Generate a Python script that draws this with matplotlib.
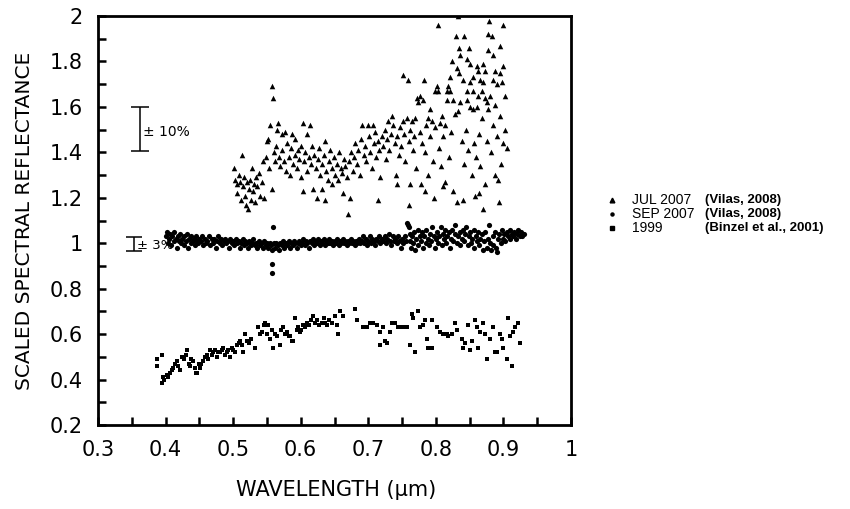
import matplotlib
matplotlib.use("Agg")
import matplotlib.pyplot as plt
from matplotlib.lines import Line2D
from matplotlib.ticker import MultipleLocator

# ---------------- data (wavelength um, scaled reflectance) ----------------
jul_2007 = [
    (0.501,1.33),(0.503,1.28),(0.505,1.26),(0.506,1.22),(0.508,1.30),(0.510,1.27),(0.511,1.19),
    (0.513,1.39),(0.514,1.25),(0.516,1.29),(0.517,1.21),(0.519,1.17),(0.520,1.27),(0.522,1.15),
    (0.523,1.24),(0.525,1.28),(0.526,1.19),(0.528,1.33),(0.529,1.23),(0.531,1.26),(0.532,1.18),
    (0.534,1.29),(0.536,1.25),(0.538,1.31),(0.540,1.21),(0.542,1.27),(0.544,1.36),(0.546,1.20),
    (0.548,1.38),(0.550,1.45),(0.552,1.46),(0.553,1.33),(0.555,1.52),(0.557,1.24),(0.558,1.69),
    (0.559,1.64),(0.560,1.40),(0.562,1.36),(0.563,1.43),(0.565,1.50),(0.566,1.53),(0.568,1.38),
    (0.570,1.34),(0.572,1.48),(0.573,1.41),(0.575,1.36),(0.577,1.49),(0.578,1.32),(0.580,1.44),
    (0.582,1.38),(0.584,1.30),(0.586,1.42),(0.587,1.48),(0.589,1.35),(0.591,1.39),(0.592,1.46),
    (0.594,1.33),(0.596,1.41),(0.598,1.37),(0.600,1.29),(0.601,1.43),(0.603,1.53),(0.603,1.23),
    (0.605,1.36),(0.607,1.40),(0.609,1.48),(0.610,1.32),(0.612,1.38),(0.614,1.52),(0.615,1.35),
    (0.617,1.43),(0.618,1.24),(0.620,1.39),
    (0.622,1.33),(0.624,1.20),(0.625,1.37),(0.627,1.42),(0.629,1.30),(0.631,1.24),(0.632,1.35),
    (0.634,1.39),(0.636,1.45),(0.636,1.19),(0.638,1.32),(0.640,1.28),(0.642,1.36),(0.644,1.41),
    (0.646,1.26),(0.647,1.33),(0.649,1.38),(0.651,1.30),(0.653,1.35),(0.655,1.28),(0.657,1.40),
    (0.659,1.33),(0.661,1.31),(0.663,1.22),(0.664,1.37),(0.666,1.34),(0.668,1.29),(0.670,1.13),
    (0.671,1.36),(0.673,1.20),
    (0.675,1.40),(0.677,1.32),(0.679,1.38),(0.681,1.44),(0.683,1.35),(0.685,1.41),(0.687,1.30),
    (0.689,1.46),(0.691,1.52),(0.693,1.39),(0.695,1.43),(0.697,1.36),(0.700,1.52),(0.701,1.47),
    (0.703,1.40),(0.705,1.33),(0.707,1.52),(0.708,1.44),(0.710,1.49),(0.712,1.38),(0.714,1.45),
    (0.714,1.19),(0.716,1.41),(0.718,1.29),(0.720,1.47),(0.722,1.43),(0.724,1.50),(0.726,1.37),
    (0.728,1.46),(0.729,1.54),(0.731,1.41),(0.733,1.48),(0.735,1.56),(0.737,1.52),(0.739,1.44),
    (0.741,1.30),(0.742,1.26),(0.743,1.47),(0.745,1.39),(0.747,1.51),(0.749,1.43),
    (0.751,1.74),(0.751,1.54),(0.753,1.48),(0.755,1.36),(0.757,1.55),(0.759,1.72),(0.760,1.45),
    (0.760,1.17),(0.762,1.50),(0.762,1.26),(0.765,1.54),(0.766,1.41),(0.768,1.47),(0.769,1.55),
    (0.771,1.33),(0.772,1.64),(0.774,1.62),(0.776,1.49),(0.777,1.65),(0.778,1.26),(0.780,1.44),
    (0.781,1.63),(0.782,1.72),(0.784,1.40),(0.784,1.23),(0.786,1.52),(0.788,1.55),(0.789,1.30),
    (0.791,1.59),(0.792,1.47),(0.794,1.54),(0.796,1.36),(0.797,1.20),(0.799,1.67),(0.799,1.51),
    (0.802,1.69),(0.803,1.96),(0.803,1.67),(0.805,1.42),(0.806,1.53),(0.808,1.34),(0.809,1.56),
    (0.810,1.25),(0.811,1.47),(0.813,1.27),(0.814,1.52),(0.816,1.67),(0.816,1.63),(0.818,1.69),
    (0.819,1.38),(0.821,1.73),(0.821,1.67),(0.823,1.49),(0.824,1.80),(0.825,1.63),(0.826,1.23),
    (0.828,1.57),(0.830,1.91),(0.831,1.77),(0.831,1.18),(0.833,1.58),(0.833,2.00),(0.834,1.86),
    (0.834,1.75),(0.836,1.62),(0.836,1.83),(0.838,1.45),(0.840,1.72),(0.840,1.19),(0.841,1.35),
    (0.842,1.91),(0.844,1.50),(0.846,1.81),(0.846,1.67),(0.846,1.63),(0.848,1.41),(0.849,1.86),
    (0.851,1.71),(0.851,1.79),(0.851,1.60),(0.853,1.30),(0.855,1.73),(0.855,1.67),(0.855,1.59),
    (0.857,1.44),(0.858,1.21),(0.860,1.38),(0.861,1.78),(0.861,1.60),(0.862,1.65),(0.862,1.76),
    (0.864,1.48),(0.864,1.22),(0.865,1.72),(0.866,1.34),(0.868,1.67),(0.869,1.55),(0.870,1.79),
    (0.870,1.71),(0.870,1.15),(0.872,1.26),(0.873,1.64),(0.873,1.76),(0.875,1.45),(0.876,1.62),
    (0.877,1.85),(0.877,1.59),(0.877,1.92),(0.879,1.98),(0.880,1.65),(0.881,1.40),(0.883,1.91),
    (0.884,1.52),(0.885,1.83),(0.885,1.72),(0.887,1.30),(0.888,1.76),(0.888,1.61),(0.890,1.47),
    (0.891,1.70),(0.892,1.28),(0.893,1.18),(0.895,1.87),(0.895,1.75),(0.895,1.56),(0.897,1.35),
    (0.898,1.71),(0.899,1.44),(0.900,1.96),(0.900,1.78),(0.902,1.50),(0.903,1.65),(0.905,1.42),
]

sep_2007 = [
    (0.400,1.03),(0.402,1.05),(0.403,1.00),(0.405,1.02),(0.407,1.04),(0.408,0.99),(0.410,1.03),
    (0.412,1.01),(0.413,1.05),(0.415,1.02),(0.417,0.98),(0.418,1.03),(0.420,1.01),(0.422,1.04),
    (0.423,1.00),(0.425,1.02),(0.427,0.99),(0.428,1.03),(0.430,1.01),(0.432,1.04),(0.433,0.98),
    (0.435,1.02),(0.437,1.00),(0.438,1.03),(0.440,1.01),(0.442,1.02),(0.443,0.99),(0.445,1.03),
    (0.447,1.01),(0.448,1.00),(0.450,1.02),
    (0.452,1.01),(0.454,1.03),(0.456,0.99),(0.458,1.02),(0.460,1.00),(0.462,1.01),(0.464,1.03),
    (0.466,0.99),(0.468,1.02),(0.470,1.00),(0.472,1.02),(0.474,0.98),(0.476,1.01),(0.478,1.03),
    (0.480,1.00),(0.482,1.02),(0.484,0.99),(0.486,1.01),(0.488,1.02),(0.490,1.00),(0.492,1.01),
    (0.494,0.98),(0.496,1.02),(0.498,1.00),(0.500,1.01),(0.502,0.99),(0.504,1.02),(0.506,1.00),
    (0.508,1.01),(0.510,0.98),(0.512,1.00),(0.514,1.02),(0.516,0.99),(0.518,1.01),(0.520,1.00),
    (0.522,0.98),(0.524,1.01),(0.526,0.99),(0.528,1.00),(0.530,1.02),(0.532,0.99),(0.534,1.00),
    (0.536,0.98),(0.538,1.01),(0.540,0.99),(0.542,1.00),(0.544,0.98),(0.546,1.01),(0.548,0.99),
    (0.550,1.00),
    (0.552,0.98),(0.554,1.00),(0.556,0.99),(0.557,0.91),(0.557,0.87),(0.559,1.07),(0.558,0.97),
    (0.560,1.00),(0.562,0.98),(0.564,1.00),(0.566,0.99),(0.568,0.97),(0.570,1.00),(0.572,0.99),
    (0.574,1.01),(0.576,0.98),(0.578,1.00),(0.580,0.99),(0.582,1.01),(0.584,0.98),(0.586,1.00),
    (0.588,0.99),(0.590,1.01),(0.592,1.00),(0.594,0.98),(0.596,1.00),(0.598,1.01),(0.600,0.99),
    (0.602,1.00),(0.604,1.02),(0.606,0.99),(0.608,1.01),(0.610,1.00),(0.612,0.98),(0.614,1.01),
    (0.616,1.00),(0.618,1.02),(0.620,0.99),(0.622,1.01),(0.624,1.00),(0.626,1.02),(0.628,0.99),
    (0.630,1.01),(0.632,1.00),(0.634,1.02),(0.636,0.99),(0.638,1.01),(0.640,1.00),(0.642,1.02),
    (0.644,1.00),(0.646,1.01),(0.648,0.99),(0.650,1.01),
    (0.652,1.00),(0.654,1.02),(0.656,0.99),(0.658,1.01),(0.660,1.00),(0.662,1.02),(0.664,1.00),
    (0.666,1.01),(0.668,0.99),(0.670,1.01),(0.672,1.00),(0.674,1.02),(0.676,1.00),(0.678,1.01),
    (0.680,0.99),(0.682,1.01),(0.684,1.00),(0.686,1.02),(0.688,1.00),(0.690,1.01),(0.692,1.03),
    (0.694,1.00),(0.696,1.02),(0.698,0.99),(0.700,1.01),(0.702,1.03),(0.704,1.00),(0.706,1.02),
    (0.708,1.01),(0.710,0.99),(0.712,1.02),(0.714,1.01),(0.716,1.03),(0.718,1.00),(0.720,1.02),
    (0.722,1.01),(0.724,1.03),(0.726,1.00),(0.728,1.02),(0.730,1.04),(0.732,1.01),(0.734,0.99),
    (0.736,1.03),(0.738,1.01),(0.740,1.02),(0.742,1.00),(0.744,1.03),(0.746,1.01),(0.748,0.98),
    (0.750,1.02),(0.752,1.00),(0.754,1.03),(0.756,1.01),
    (0.758,1.09),(0.759,1.08),(0.760,1.07),(0.761,1.04),(0.762,1.01),(0.763,0.98),(0.765,1.03),
    (0.766,1.00),(0.768,1.05),(0.769,0.97),(0.771,1.02),(0.773,1.06),(0.774,0.99),(0.776,1.03),
    (0.778,1.01),(0.779,1.05),(0.781,0.98),(0.783,1.03),(0.785,1.00),(0.786,1.06),(0.788,1.02),
    (0.790,0.99),(0.791,1.04),(0.793,1.01),(0.795,1.07),(0.797,1.03),(0.798,0.98),(0.800,1.02),
    (0.802,1.05),(0.803,1.00),(0.805,1.03),(0.807,1.07),(0.809,0.99),(0.810,1.04),(0.812,1.02),
    (0.814,1.06),(0.815,1.00),(0.817,1.03),(0.819,1.05),(0.821,0.98),(0.822,1.02),(0.824,1.06),
    (0.826,1.01),(0.828,1.04),(0.829,1.08),(0.831,1.00),(0.833,1.03),(0.835,1.05),(0.836,0.99),
    (0.838,1.02),(0.840,1.06),(0.842,1.01),(0.843,1.04),(0.845,1.07),(0.847,0.99),(0.849,1.03),
    (0.850,1.05),(0.852,1.00),(0.854,1.02),(0.856,1.06),(0.857,0.98),(0.859,1.03),(0.861,1.01),
    (0.863,1.05),(0.864,0.99),(0.866,1.02),(0.868,1.04),(0.870,0.97),(0.871,1.01),(0.873,1.05),
    (0.875,0.98),(0.877,1.02),(0.878,1.08),(0.880,1.00),(0.882,0.97),(0.884,1.03),(0.885,0.99),
    (0.887,1.05),(0.889,0.98),(0.891,0.96),(0.892,1.02),(0.894,1.04),(0.896,1.00),(0.898,1.06),
    (0.899,1.02),(0.901,1.04),(0.903,1.01),(0.905,1.05),(0.907,1.03),(0.909,1.06),(0.910,1.02),
    (0.912,1.04),(0.914,1.03),(0.916,1.05),(0.918,1.02),(0.920,1.04),(0.922,1.06),(0.924,1.03),
    (0.926,1.05),(0.928,1.03),(0.930,1.04),
]

binzel_1999 = [
    (0.387,0.49),(0.387,0.46),(0.395,0.51),(0.395,0.385),(0.396,0.41),(0.398,0.40),(0.402,0.42),
    (0.404,0.41),(0.407,0.43),(0.409,0.44),(0.411,0.45),(0.414,0.47),(0.417,0.48),(0.419,0.46),
    (0.421,0.44),(0.424,0.50),(0.427,0.49),(0.430,0.51),(0.432,0.53),(0.434,0.47),(0.436,0.46),
    (0.438,0.49),(0.441,0.48),(0.443,0.45),(0.445,0.43),(0.447,0.43),(0.449,0.47),(0.451,0.45),
    (0.453,0.47),(0.455,0.48),(0.458,0.50),(0.461,0.51),(0.463,0.49),(0.466,0.53),(0.468,0.51),
    (0.470,0.52),(0.473,0.53),(0.476,0.50),(0.478,0.52),(0.481,0.52),(0.483,0.53),(0.485,0.54),
    (0.488,0.51),(0.491,0.52),(0.493,0.53),(0.495,0.50),(0.498,0.54),(0.500,0.53),(0.503,0.52),
    (0.506,0.55),(0.508,0.56),(0.510,0.57),(0.513,0.55),(0.515,0.52),(0.518,0.60),(0.521,0.57),
    (0.524,0.56),(0.527,0.58),(0.532,0.54),(0.537,0.63),(0.540,0.60),(0.543,0.61),(0.545,0.64),
    (0.547,0.65),(0.550,0.60),(0.552,0.64),(0.555,0.58),(0.557,0.62),(0.559,0.54),(0.562,0.60),
    (0.565,0.59),(0.569,0.55),(0.571,0.62),(0.574,0.63),(0.577,0.60),(0.580,0.61),(0.582,0.59),
    (0.584,0.59),(0.587,0.57),(0.589,0.57),(0.592,0.67),(0.594,0.62),(0.596,0.63),(0.599,0.61),
    (0.601,0.62),(0.603,0.64),(0.606,0.63),(0.609,0.65),(0.612,0.64),(0.615,0.66),(0.618,0.68),
    (0.621,0.65),(0.624,0.66),(0.627,0.64),(0.631,0.65),(0.634,0.67),(0.636,0.65),(0.639,0.64),
    (0.642,0.66),(0.646,0.65),(0.651,0.68),(0.654,0.64),(0.655,0.60),(0.658,0.70),(0.662,0.68),
    (0.680,0.71),(0.683,0.66),(0.692,0.63),(0.698,0.63),(0.703,0.65),(0.707,0.65),(0.713,0.64),
    (0.717,0.61),(0.722,0.63),(0.725,0.57),(0.717,0.55),(0.728,0.56),(0.732,0.61),(0.735,0.65),
    (0.740,0.65),(0.744,0.63),(0.747,0.63),(0.751,0.63),(0.757,0.63),(0.762,0.55),(0.769,0.52),
    (0.765,0.69),(0.774,0.70),(0.766,0.67),(0.777,0.63),(0.781,0.64),(0.787,0.58),(0.788,0.54),
    (0.794,0.54),(0.784,0.66),(0.794,0.66),(0.802,0.63),(0.806,0.61),(0.811,0.60),(0.816,0.60),
    (0.818,0.59),(0.824,0.60),(0.828,0.65),(0.831,0.62),(0.839,0.58),(0.840,0.54),(0.843,0.56),
    (0.848,0.64),(0.851,0.53),(0.853,0.57),(0.858,0.66),(0.861,0.63),(0.862,0.54),(0.865,0.61),
    (0.870,0.65),(0.873,0.60),(0.876,0.49),(0.880,0.58),(0.885,0.63),(0.888,0.52),(0.891,0.52),
    (0.895,0.60),(0.898,0.58),(0.899,0.54),(0.905,0.49),(0.907,0.67),(0.910,0.59),(0.912,0.46),
    (0.914,0.61),(0.917,0.63),(0.922,0.65),(0.925,0.56),
]

series_labels = ["JUL 2007", "SEP 2007", "1999"]
series_markers = ["^", "o", "s"]
citations = ["(Vilas, 2008)", "(Vilas, 2008)", "(Binzel et al., 2001)"]
xtick_vals = [0.3, 0.4, 0.5, 0.6, 0.7, 0.8, 0.9, 1.0]
xtick_labels = ["0.3", "0.4", "0.5", "0.6", "0.7", "0.8", "0.9", "1"]
ytick_vals = [0.2, 0.4, 0.6, 0.8, 1.0, 1.2, 1.4, 1.6, 1.8, 2.0]
ytick_labels = ["0.2", "0.4", "0.6", "0.8", "1", "1.2", "1.4", "1.6", "1.8", "2"]

# ---------------- figure ----------------
W, H = 850, 509
fig = plt.figure(figsize=(W / 100, H / 100), dpi=100)
ax = fig.add_axes([98 / W, 1 - 425 / H, (571 - 98) / W, (425 - 16) / H])

jx, jy = zip(*jul_2007)
sx, sy = zip(*sep_2007)
bx, by = zip(*binzel_1999)

ax.scatter(jx, jy, marker="^", s=16, c="black", linewidths=0, zorder=3)
ax.scatter(sx, sy, marker="o", s=14, c="black", linewidths=0, zorder=3)
ax.scatter(bx, by, marker="s", s=11, c="black", linewidths=0, zorder=3)

# error-scale indicators
ax.errorbar([0.362], [1.503], yerr=[0.095], fmt="none", ecolor="black",
            elinewidth=1.1, capsize=6.5, capthick=1.1, zorder=2)
ax.text(0.366, 1.49, "± 10%", fontsize=10, va="center", ha="left")
ax.errorbar([0.353], [0.996], yerr=[0.031], fmt="none", ecolor="black",
            elinewidth=1.1, capsize=6.0, capthick=1.1, zorder=2)
ax.text(0.358, 0.99, "± 3%", fontsize=9.5, va="center", ha="left")

ax.set_xlim(0.3, 1.0)
ax.set_ylim(0.2, 2.0)
ax.set_xticks(xtick_vals)
ax.set_xticklabels(xtick_labels)
ax.set_yticks(ytick_vals)
ax.set_yticklabels(ytick_labels)
ax.xaxis.set_minor_locator(MultipleLocator(0.05))
ax.yaxis.set_minor_locator(MultipleLocator(0.1))
ax.tick_params(which="both", direction="in", top=False, right=False,
               width=1.8, labelsize=15, pad=11)
ax.tick_params(which="major", length=6)
ax.tick_params(which="minor", length=6)
for sp in ax.spines.values():
    sp.set_linewidth(2.0)

ax.set_xlabel("WAVELENGTH (µm)", fontsize=15)
ax.set_ylabel("SCALED SPECTRAL REFLECTANCE", fontsize=14.5)
ax.xaxis.set_label_coords(0.503, -0.135)
ax.yaxis.set_label_coords(-0.135, 0.5)

# legend (drawn outside the axes, in figure coordinates)
legend_rows = [200, 214, 228]
marker_sizes = [3.4, 2.2, 3.0]
for lab, mk, ms, yy in zip(series_labels, series_markers, marker_sizes, legend_rows):
    fig.add_artist(Line2D([612 / W], [1 - yy / H], marker=mk, ls="none",
                          color="black", ms=ms, transform=fig.transFigure))
    fig.text(632 / W, 1 - yy / H, lab, fontsize=10, family="Liberation Sans",
             va="center", ha="left")
cit_rows = [200, 214, 227.5]
for txt, yy in zip(citations, cit_rows):
    fig.text(705 / W, 1 - yy / H, txt, fontsize=9.5, fontweight="bold",
             family="Liberation Sans", va="center", ha="left")

fig.savefig("out.png", dpi=100)
